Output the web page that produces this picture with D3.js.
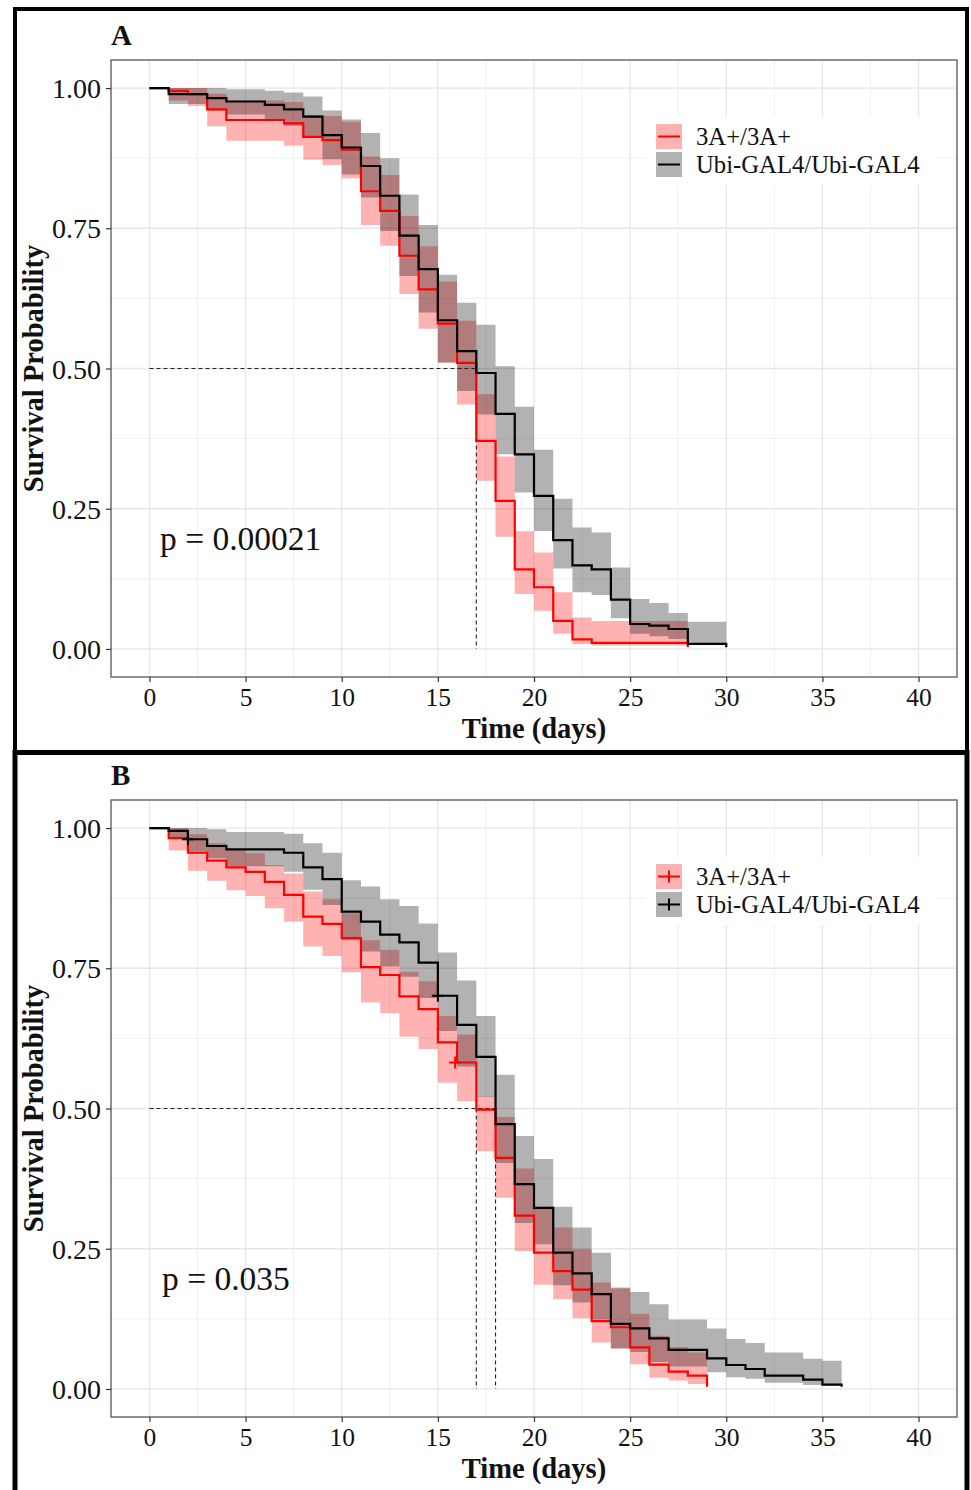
<!DOCTYPE html>
<html>
<head>
<meta charset="utf-8">
<script src="https://cdn.jsdelivr.net/npm/d3@7"></script>
<style>
  html, body { margin: 0; padding: 0; background: #fff; }
  svg { display: block; }
  text { font-family: "Liberation Serif", "Times New Roman", serif; }
</style>
</head>
<body>
<svg id="chart" width="971" height="1490"></svg>
<script>
// ---------------- DATA ----------------
const groups = ["3A+/3A+", "Ubi-GAL4/Ubi-GAL4"];
const groupColors = ["#FF0000", "#000000"];
const xTicks = [0, 5, 10, 15, 20, 25, 30, 35, 40];
const yTicks = [0, 0.25, 0.5, 0.75, 1];
const yTickLabels = ["0.00", "0.25", "0.50", "0.75", "1.00"];
const panelLabels = ["A", "B"];
const pValues = ["p = 0.00021", "p = 0.035"];

// Panel A, 3A+/3A+
const aRedTime  = [0, 1, 2, 3, 4, 7, 8, 9, 10, 11, 12, 13, 14, 15, 16, 17, 18, 19, 20, 21, 22, 23, 28];
const aRedSurv  = [1, 0.995, 0.989, 0.962, 0.943, 0.937, 0.913, 0.907, 0.890, 0.816, 0.781, 0.701, 0.641, 0.580, 0.510, 0.371, 0.264, 0.142, 0.110, 0.050, 0.017, 0.011, 0.003];
const aRedUpper = [1, 1.0, 1.0, 0.990, 0.978, 0.975, 0.952, 0.950, 0.940, 0.878, 0.845, 0.772, 0.718, 0.655, 0.585, 0.454, 0.343, 0.210, 0.172, 0.101, 0.056, 0.050, 0.050];
const aRedLower = [1, 0.978, 0.968, 0.932, 0.906, 0.897, 0.872, 0.863, 0.839, 0.756, 0.719, 0.633, 0.571, 0.510, 0.436, 0.300, 0.200, 0.098, 0.068, 0.027, 0.009, 0.006, 0.006];

// Panel A, Ubi-GAL4/Ubi-GAL4
const aBlkTime  = [0, 1, 3, 4, 6, 7, 8, 9, 10, 11, 12, 13, 14, 15, 16, 17, 18, 19, 20, 21, 22, 23, 24, 25, 26, 27, 28, 30];
const aBlkSurv  = [1, 0.989, 0.982, 0.976, 0.970, 0.962, 0.949, 0.916, 0.894, 0.861, 0.808, 0.737, 0.677, 0.586, 0.531, 0.492, 0.419, 0.347, 0.273, 0.194, 0.149, 0.142, 0.088, 0.0445, 0.0415, 0.0356, 0.0089, 0.003];
const aBlkUpper = [1, 1.0, 1.0, 0.998, 0.995, 0.992, 0.985, 0.960, 0.944, 0.920, 0.875, 0.810, 0.756, 0.667, 0.617, 0.578, 0.504, 0.432, 0.355, 0.268, 0.2165, 0.2075, 0.145, 0.089, 0.082, 0.064, 0.0486, 0.0486];
const aBlkLower = [1, 0.9715, 0.960, 0.953, 0.945, 0.933, 0.914, 0.873, 0.846, 0.805, 0.745, 0.665, 0.600, 0.511, 0.460, 0.418, 0.347, 0.279, 0.2105, 0.1435, 0.101, 0.096, 0.0546, 0.027, 0.0225, 0.0178, 0.0089, 0.0089];

// Panel B, 3A+/3A+
const bRedTime  = [0, 1, 2, 3, 4, 5, 6, 7, 8, 9, 10, 11, 12, 13, 14, 15, 16, 17, 18, 19, 20, 21, 22, 23, 24, 25, 26, 27, 28, 29];
const bRedSurv  = [1, 0.982, 0.956, 0.942, 0.930, 0.922, 0.904, 0.881, 0.842, 0.829, 0.804, 0.752, 0.738, 0.700, 0.677, 0.618, 0.582, 0.498, 0.412, 0.309, 0.243, 0.210, 0.177, 0.121, 0.110, 0.074, 0.0432, 0.0308, 0.0237, 0.004];
const bRedUpper = [1, 1.0, 0.989, 0.973, 0.962, 0.955, 0.934, 0.919, 0.887, 0.873, 0.848, 0.800, 0.783, 0.744, 0.727, 0.665, 0.632, 0.522, 0.485, 0.393, 0.325, 0.288, 0.249, 0.190, 0.179, 0.134, 0.095, 0.075, 0.065, 0.065];
const bRedLower = [1, 0.960, 0.924, 0.906, 0.889, 0.879, 0.857, 0.833, 0.789, 0.772, 0.743, 0.689, 0.670, 0.628, 0.606, 0.546, 0.513, 0.424, 0.341, 0.246, 0.186, 0.160, 0.126, 0.083, 0.072, 0.044, 0.020, 0.015, 0.009, 0.009];
const bRedCensorTime = [15.9];
const bRedCensorSurv = [0.582];

// Panel B, Ubi-GAL4/Ubi-GAL4
const bBlkTime  = [0, 1, 2, 3, 4, 7, 8, 9, 10, 11, 12, 13, 14, 15, 16, 17, 18, 19, 20, 21, 22, 23, 24, 25, 26, 27, 29, 30, 31, 32, 34, 35, 36];
const bBlkSurv  = [1, 0.995, 0.980, 0.968, 0.962, 0.956, 0.930, 0.909, 0.851, 0.833, 0.810, 0.796, 0.760, 0.701, 0.649, 0.592, 0.472, 0.365, 0.323, 0.243, 0.206, 0.169, 0.116, 0.108, 0.090, 0.0698, 0.0546, 0.0427, 0.0356, 0.0237, 0.0166, 0.0077, 0.004];
const bBlkUpper = [1, 1.0, 1.0, 0.998, 0.993, 0.990, 0.973, 0.956, 0.907, 0.896, 0.873, 0.861, 0.830, 0.778, 0.728, 0.665, 0.560, 0.451, 0.410, 0.325, 0.288, 0.243, 0.181, 0.173, 0.151, 0.124, 0.108, 0.089, 0.082, 0.065, 0.054, 0.0505, 0.0505];
const bBlkLower = [1, 0.982, 0.958, 0.946, 0.932, 0.922, 0.890, 0.863, 0.800, 0.780, 0.753, 0.735, 0.697, 0.638, 0.575, 0.521, 0.403, 0.296, 0.258, 0.185, 0.154, 0.124, 0.072, 0.066, 0.048, 0.040, 0.030, 0.021, 0.018, 0.011, 0.0072, 0.006, 0.006];
const bBlkCensorTime = [2, 15];
const bBlkCensorSurv = [0.980, 0.701];

// Median survival (dashed reference lines)
const aMedians = [17];
const bMedians = [17, 18];

// ---------------- BUILD ----------------
function series(time, surv, upper, lower) {
  return time.map((t, i) => ({ t: t, s: surv[i], hi: upper[i], lo: lower[i] }));
}
function censor(time, surv) { return time.map((t, i) => ({ t: t, s: surv[i] })); }

const panels = [
  {
    label: panelLabels[0], p: pValues[0], top: 0, medians: aMedians, censorLegend: false,
    strata: [
      { data: series(aRedTime, aRedSurv, aRedUpper, aRedLower), censor: [] },
      { data: series(aBlkTime, aBlkSurv, aBlkUpper, aBlkLower), censor: [] }
    ]
  },
  {
    label: panelLabels[1], p: pValues[1], top: 740, medians: bMedians, censorLegend: true,
    strata: [
      { data: series(bRedTime, bRedSurv, bRedUpper, bRedLower), censor: censor(bRedCensorTime, bRedCensorSurv) },
      { data: series(bBlkTime, bBlkSurv, bBlkUpper, bBlkLower), censor: censor(bBlkCensorTime, bBlkCensorSurv) }
    ]
  }
];

const svg = d3.select("#chart");
svg.append("rect").attr("width", 971).attr("height", 1490).attr("fill", "#fff");

const plotL = 111, plotR = 957;
const FONT = "Liberation Serif, Times New Roman, serif";

panels.forEach((P, pi) => {
  const off = P.top;
  const plotT = 60 + off, plotB = 677 + off;
  const g = svg.append("g");

  const x = d3.scaleLinear().domain([-2, 42]).range([plotL, plotR]);
  const y = d3.scaleLinear().domain([-0.05, 1.05]).range([plotB, plotT]);

  g.append("rect").attr("x", plotL).attr("y", plotT)
    .attr("width", plotR - plotL).attr("height", plotB - plotT).attr("fill", "#fff");

  // grid: minor
  const xMinor = d3.range(2.5, 42, 5);
  const yMinor = [0.125, 0.375, 0.625, 0.875];
  g.selectAll(null).data(xMinor).enter().append("line")
    .attr("x1", d => x(d)).attr("x2", d => x(d)).attr("y1", plotT).attr("y2", plotB)
    .attr("stroke", "#EFEFEF").attr("stroke-width", 1);
  g.selectAll(null).data(yMinor).enter().append("line")
    .attr("y1", d => y(d)).attr("y2", d => y(d)).attr("x1", plotL).attr("x2", plotR)
    .attr("stroke", "#EFEFEF").attr("stroke-width", 1);
  // grid: major
  g.selectAll(null).data(xTicks).enter().append("line")
    .attr("x1", d => x(d)).attr("x2", d => x(d)).attr("y1", plotT).attr("y2", plotB)
    .attr("stroke", "#E6E6E6").attr("stroke-width", 1.3);
  g.selectAll(null).data(yTicks).enter().append("line")
    .attr("y1", d => y(d)).attr("y2", d => y(d)).attr("x1", plotL).attr("x2", plotR)
    .attr("stroke", "#E6E6E6").attr("stroke-width", 1.3);

  const clipId = "clip" + pi;
  svg.append("clipPath").attr("id", clipId).append("rect")
    .attr("x", plotL).attr("y", plotT).attr("width", plotR - plotL).attr("height", plotB - plotT);
  const gc = g.append("g").attr("clip-path", `url(#${clipId})`);

  const area = d3.area().x(d => x(d.t)).y0(d => y(d.lo)).y1(d => y(d.hi)).curve(d3.curveStepAfter);
  const line = d3.line().x(d => x(d.t)).y(d => y(d.s)).curve(d3.curveStepAfter);

  P.strata.forEach((S, si) => {
    gc.append("path").datum(S.data).attr("d", area)
      .attr("fill", groupColors[si]).attr("fill-opacity", 0.3).attr("stroke", "none");
  });

  const maxMed = d3.max(P.medians);
  gc.append("line").attr("x1", x(0)).attr("x2", x(maxMed)).attr("y1", y(0.5)).attr("y2", y(0.5))
    .attr("stroke", "#222").attr("stroke-width", 1.1).attr("stroke-dasharray", "4,3");
  gc.selectAll(null).data(P.medians).enter().append("line")
    .attr("x1", d => x(d)).attr("x2", d => x(d)).attr("y1", y(0.5)).attr("y2", y(0))
    .attr("stroke", "#222").attr("stroke-width", 1.1).attr("stroke-dasharray", "4,3");

  P.strata.forEach((S, si) => {
    gc.append("path").datum(S.data).attr("d", line)
      .attr("fill", "none").attr("stroke", groupColors[si]).attr("stroke-width", 2.2);
  });

  P.strata.forEach((S, si) => {
    const cg = gc.selectAll(null).data(S.censor).enter().append("g")
      .attr("transform", d => `translate(${x(d.t)},${y(d.s)})`);
    cg.append("line").attr("x1", -6).attr("x2", 6).attr("y1", 0).attr("y2", 0)
      .attr("stroke", groupColors[si]).attr("stroke-width", 2);
    cg.append("line").attr("x1", 0).attr("x2", 0).attr("y1", -6).attr("y2", 6)
      .attr("stroke", groupColors[si]).attr("stroke-width", 2);
  });

  g.append("rect").attr("x", plotL).attr("y", plotT)
    .attr("width", plotR - plotL).attr("height", plotB - plotT)
    .attr("fill", "none").attr("stroke", "#555").attr("stroke-width", 1.3);

  // axes
  const xAxis = d3.axisBottom(x).tickValues(xTicks).tickSize(5).tickPadding(6).tickFormat(d3.format("d"));
  const gx = g.append("g").attr("transform", `translate(0,${plotB})`).call(xAxis);
  gx.select(".domain").remove();
  gx.selectAll(".tick line").attr("stroke", "#333").attr("stroke-width", 1.2);
  gx.selectAll(".tick text").attr("font-family", FONT)
    .attr("font-size", 25.5).attr("fill", "#111");

  const yAxis = d3.axisLeft(y).tickValues(yTicks).tickSize(5).tickPadding(5)
    .tickFormat((d, i) => yTickLabels[i]);
  const gy = g.append("g").attr("transform", `translate(${plotL},0)`).call(yAxis);
  gy.select(".domain").remove();
  gy.selectAll(".tick line").attr("stroke", "#333").attr("stroke-width", 1.2);
  gy.selectAll(".tick text").attr("font-family", FONT)
    .attr("font-size", 28).attr("fill", "#111").attr("dy", "0.34em");

  // axis titles
  g.append("text").attr("x", (plotL + plotR) / 2).attr("y", 738 + off)
    .attr("text-anchor", "middle").attr("font-weight", "bold").attr("font-size", 28.5)
    .attr("fill", "#111").text("Time (days)");
  g.append("text").attr("transform", `translate(43,${(y(0) + y(1)) / 2}) rotate(-90)`)
    .attr("text-anchor", "middle").attr("font-weight", "bold").attr("font-size", 28.5)
    .attr("fill", "#111").text("Survival Probability");

  // panel letter
  g.append("text").attr("x", 111).attr("y", 45 + off).attr("font-weight", "bold")
    .attr("font-size", 29).attr("fill", "#111").text(P.label);

  // p-value
  g.append("text").attr("x", pi === 0 ? 160 : 162).attr("y", 550 + off)
    .attr("font-size", 33.5).attr("fill", "#111").text(P.p);

  // legend
  const lg = g.append("g").attr("transform", `translate(0,${off})`);
  lg.append("rect").attr("x", 646).attr("y", 117).attr("width", 290).attr("height", 68).attr("fill", "#fff");
  groups.forEach((name, gi) => {
    const ky = 124 + gi * 28;
    lg.append("rect").attr("x", 656).attr("y", ky).attr("width", 26).attr("height", 25)
      .attr("fill", groupColors[gi]).attr("fill-opacity", 0.3);
    lg.append("line").attr("x1", 658).attr("x2", 680).attr("y1", ky + 12.5).attr("y2", ky + 12.5)
      .attr("stroke", groupColors[gi]).attr("stroke-width", 2);
    if (P.censorLegend) {
      lg.append("line").attr("x1", 669).attr("x2", 669).attr("y1", ky + 6.5).attr("y2", ky + 18.5)
        .attr("stroke", groupColors[gi]).attr("stroke-width", 2);
    }
    lg.append("text").attr("x", 696).attr("y", ky + 21).attr("font-size", 24.7)
      .attr("fill", "#111").text(name);
  });

  // outer frame
  svg.append("rect").attr("x", 15).attr("y", pi === 0 ? 9 : 752.5)
    .attr("width", 952).attr("height", pi === 0 ? 743.5 : 745)
    .attr("fill", "none").attr("stroke", "#000").attr("stroke-width", pi === 0 ? 4 : 5);
});
</script>
</body>
</html>
